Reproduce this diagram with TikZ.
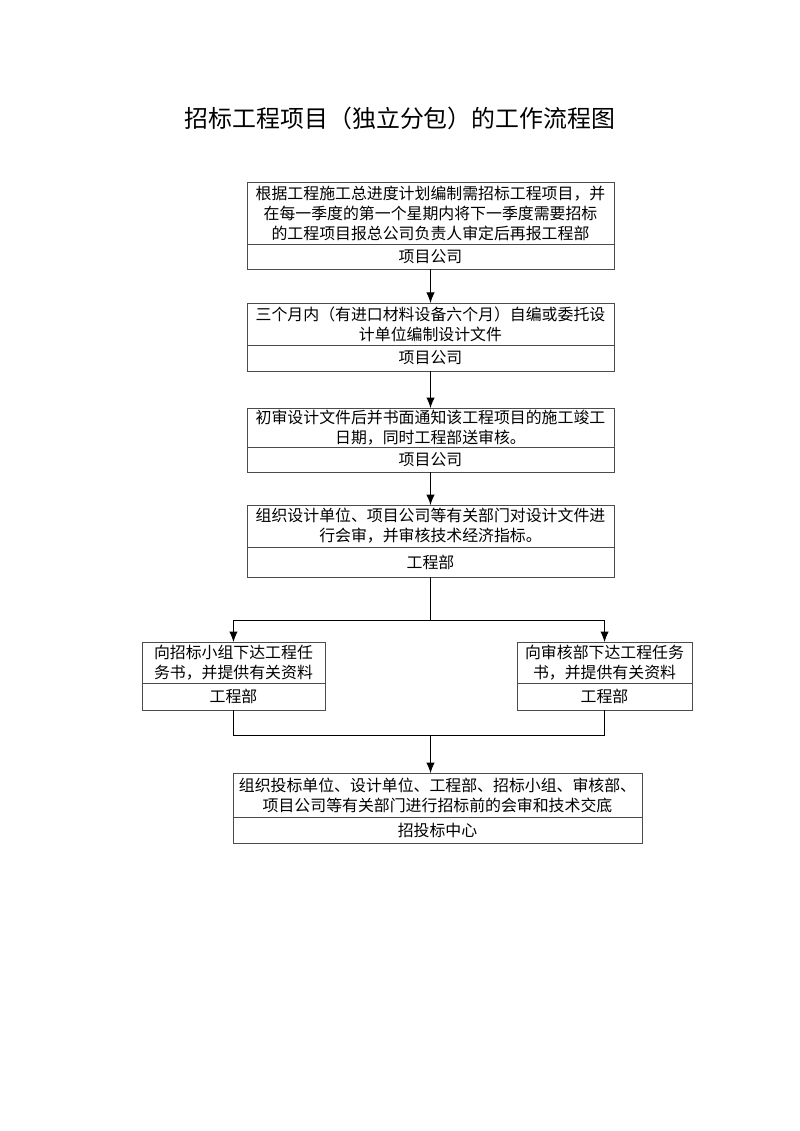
\documentclass[tikz,border=0pt]{standalone}
\usepackage{fontspec}
\newfontfamily\cjk{Noto Sans CJK SC}
\usetikzlibrary{positioning}
\usetikzlibrary{arrows.meta}

\begin{document}
\begin{tikzpicture}[x=0.025cm,y=-0.025cm,
      font=\cjk\fontsize{11.3}{14.2}\selectfont,
      work style/.style={rectangle,draw=black!70,line width=0.6pt,inner
        sep=0pt,outer sep=0pt,align=center},
      unit style/.style={work style,minimum height=0.65cm},
      arrow style/.style={-{Latex[length=7.5pt,width=6pt]},line width=0.7pt}
      ]
      \useasboundingbox (0,0) rectangle (800,1131);

      \node[font=\cjk\fontsize{17}{20}\selectfont] (title) at (400,118) {招标工程项目（独立分包）的工作流程图};

      \node[work style, text width=9.175cm, minimum height=1.55cm] (plan) at (430.5,213)
        {根据工程施工总进度计划编制需招标工程项目，并\\在每一季度的第一个星期内将下一季度需要招标\\的工程项目报总公司负责人审定后再报工程部};
      \node[unit style, text width=9.175cm, minimum height=0.625cm, below=0pt of plan] (planunit) {项目公司};

      \node[work style, text width=9.175cm, minimum height=1.05cm, below=0.85cm of planunit] (design)
        {三个月内（有进口材料设备六个月）自编或委托设\\计单位编制设计文件};
      \node[unit style, text width=9.175cm, below=0pt of design] (designunit) {项目公司};

      \node[work style, text width=9.175cm, minimum height=0.975cm, below=0.925cm of designunit] (check)
        {初审设计文件后并书面通知该工程项目的施工竣工\\日期，同时工程部送审核。};
      \node[unit style, text width=9.175cm, minimum height=0.625cm, below=0pt of check] (checkunit) {项目公司};

      \node[work style, text width=9.175cm, minimum height=1.05cm, below=0.825cm of checkunit] (meet)
        {组织设计单位、项目公司等有关部门对设计文件进\\行会审，并审核技术经济指标。};
      \node[unit style, text width=9.175cm, minimum height=0.75cm, below=0pt of meet] (meetunit) {工程部};

      \draw[arrow style] (planunit) -- (design);
      \draw[arrow style] (designunit) -- (check);
      \draw[arrow style] (checkunit) -- (meet);

      \coordinate[below=1.075cm of meetunit] (split);

      \node[work style, text width=4.575cm, minimum height=1.025cm, below=0.55cm of split, xshift=-4.925cm] (bidtask)
        {向招标小组下达工程任\\务书，并提供有关资料};
      \node[unit style, text width=4.575cm, minimum height=0.675cm, below=0pt of bidtask] (bidunit) {工程部};

      \node[work style, text width=4.375cm, minimum height=1.025cm, below=0.55cm of split, xshift=4.35cm] (audittask)
        {向审核部下达工程任务\\书，并提供有关资料};
      \node[unit style, text width=4.375cm, minimum height=0.675cm, below=0pt of audittask] (auditunit) {工程部};

      \draw[line width=0.7pt] (meetunit) -- (split);
      \draw[arrow style] (split) -| (bidtask);
      \draw[arrow style] (split) -| (audittask);

      \coordinate[below=2.875cm of split] (join);
      \draw[line width=0.7pt] (bidunit) |- (join) -| (auditunit);

      \node[work style, text width=10.225cm, minimum height=1.1cm, below=0.95cm of join, xshift=0.175cm] (brief)
        {组织投标单位、设计单位、工程部、招标小组、审核部、\\项目公司等有关部门进行招标前的会审和技术交底};
      \node[unit style, text width=10.225cm, below=0pt of brief] (briefunit) {招投标中心};

      \draw[arrow style] (join) -- (join |- brief.north);

    \end{tikzpicture}
\end{document}
